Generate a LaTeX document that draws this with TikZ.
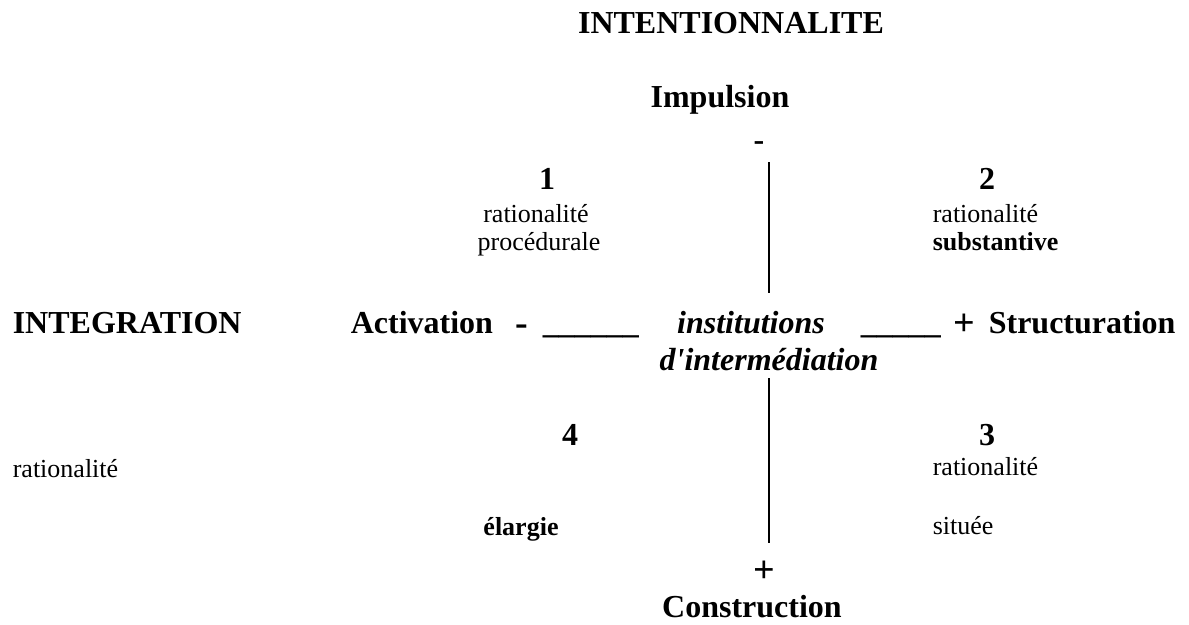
\documentclass[tikz,border=0pt]{standalone}
\usepackage{fontspec}
\setmainfont{Liberation Serif}
\usetikzlibrary{positioning}
\tikzset{
  every picture/.style={line width=1.6pt},
  pole/.style={font=\fontsize{32}{38}\selectfont\bfseries, inner sep=0pt, anchor=base},
  inst/.style={font=\fontsize{32}{38}\selectfont\bfseries\itshape, inner sep=0pt, anchor=base},
  note/.style={font=\fontsize{26}{30}\selectfont, inner sep=0pt, anchor=base},
  sign/.style={font=\fontsize{38}{42}\selectfont\bfseries, inner sep=0pt, anchor=base},
}

\begin{document}
\begin{tikzpicture}[x=1pt, y=-1pt]
  \useasboundingbox (0,0) rectangle (1189,624);
  % vertical axis
  \node[pole] (intent) at (731,33) {INTENTIONNALITE};
  \node[pole] (impul) at (720,107) {Impulsion};
  \node[pole] (minus) at (759,150) {-};
  \node[sign] (plus) at (764,582) {+};
  \node[pole] (constr) at (752,617) {Construction};
  \coordinate (uptop) at (769,162);
  \coordinate (upbot) at (769,293);
  \coordinate (lotop) at (769,378);
  \coordinate (lobot) at (769,543);
  \draw (uptop) -- (upbot);
  \draw (lotop) -- (lobot);
  % horizontal axis
  \node[pole, anchor=base west] (integ) at (12,333) {INTEGRATION};
  \node[pole, anchor=base west] (activ) at (350,333) {Activation};
  \node[sign] (hmin) at (522,335) {-};
  \node[pole, anchor=base west] (ulleft) at (542,333) {\_\_\_\_\_\_};
  \node[inst] (instit) at (751,333) {institutions};
  \node[inst] (interm) at (769,370) {d\textquotesingle intermédiation};
  \node[pole, anchor=base west] (ulright) at (860,333) {\_\_\_\_\_};
  \node[sign] (hplus) at (964,335) {+};
  \node[pole, anchor=base west] (struct) at (988,333) {Structuration};
  % quadrants
  \node[pole] (q1) at (547,189) {1};
  \node[note] (q1a) at (536,222) {rationalité};
  \node[note] (q1b) at (539,250) {procédurale};
  \node[pole] (q2) at (987,189) {2};
  \node[note, anchor=base west] (q2a) at (932,222) {rationalité};
  \node[note, anchor=base west, font=\fontsize{26}{30}\selectfont\bfseries] (q2b) at (932,250) {substantive};
  \node[pole] (q3) at (987,445) {3};
  \node[note, anchor=base west] (q3a) at (932,475) {rationalité};
  \node[note, anchor=base west] (q3b) at (932,534) {située};
  \node[pole] (q4) at (570,445) {4};
  \node[note, anchor=base west] (q4a) at (12,477) {rationalité};
  \node[note, font=\fontsize{26}{30}\selectfont\bfseries] (q4b) at (521,535) {élargie};
\end{tikzpicture}
\end{document}
